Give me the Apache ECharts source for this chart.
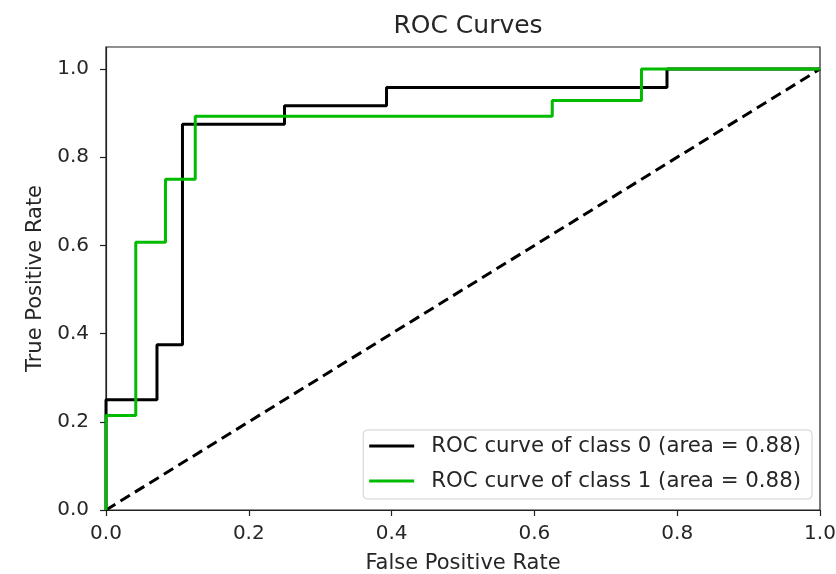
<!DOCTYPE html>
<html><head><meta charset="utf-8">
<script src="https://cdn.jsdelivr.net/npm/echarts@6/dist/echarts.min.js"></script>
<style>html,body{margin:0;padding:0;background:#fff}#c{width:836px;height:574px}</style>
</head><body><div id="c"></div>
<script>
// Class 0 ROC curve (step corners)
const fpr0 = [0, 0, 0.0714, 0.0714, 0.1071, 0.1071, 0.25, 0.25, 0.3929, 0.3929, 0.7857, 0.7857, 1.0];
const tpr0 = [0, 0.25, 0.25, 0.375, 0.375, 0.875, 0.875, 0.9167, 0.9167, 0.9583, 0.9583, 1.0, 1.0];
// Class 1 ROC curve
const fpr1 = [0, 0, 0.0417, 0.0417, 0.0833, 0.0833, 0.125, 0.125, 0.625, 0.625, 0.75, 0.75, 1.0];
const tpr1 = [0, 0.2143, 0.2143, 0.6071, 0.6071, 0.75, 0.75, 0.8929, 0.8929, 0.9286, 0.9286, 1.0, 1.0];
// Chance diagonal
const diagX = [0, 1];
const diagY = [0, 1];
const seriesNames = ['ROC curve of class 0 (area = 0.88)', 'ROC curve of class 1 (area = 0.88)'];
const xTicks = [0, 0.2, 0.4, 0.6, 0.8, 1.0];
const yTicks = [0, 0.2, 0.4, 0.6, 0.8, 1.0];

const zip = (a, b) => a.map((v, i) => [v, b[i]]);
const font = 'DejaVu Sans';
const txt = '#262626';
const chart = echarts.init(document.getElementById('c'));
chart.setOption({
  animation: false,
  backgroundColor: '#fff',
  title: { text: 'ROC Curves', left: 463, top: 9, textAlign: 'center',
    textStyle: { fontFamily: font, fontSize: 25, fontWeight: 'normal', color: txt } },
  grid: { left: 106, right: 16, top: 47, bottom: 64, show: true, borderColor: '#222', borderWidth: 1.2,
    backgroundColor: 'transparent', containLabel: false, outerBoundsMode: 'none' },
  xAxis: { type: 'value', min: 0, max: 1, interval: 0.2,
    name: 'False Positive Rate', nameLocation: 'middle', nameGap: 43,
    nameTextStyle: { fontFamily: font, fontSize: 21, color: txt },
    axisLine: { show: true, lineStyle: { color: '#222', width: 1.2 } },
    axisTick: { show: true, length: 6, customValues: xTicks, lineStyle: { color: '#222', width: 1.2 } },
    axisLabel: { fontFamily: font, fontSize: 20, color: txt, margin: 14, customValues: xTicks, formatter: v => v.toFixed(1) },
    splitLine: { show: false } },
  yAxis: { type: 'value', min: 0, max: 1.05, interval: 0.2,
    name: 'True Positive Rate', nameLocation: 'middle', nameGap: 60, nameRotate: 90,
    nameTextStyle: { fontFamily: font, fontSize: 21, color: txt },
    axisLine: { show: true, lineStyle: { color: '#222', width: 1.2 } },
    axisTick: { show: true, length: 6, customValues: yTicks, lineStyle: { color: '#222', width: 1.2 } },
    axisLabel: { fontFamily: font, fontSize: 20, color: txt, margin: 17, customValues: yTicks,
      formatter: v => v.toFixed(1) },
    splitLine: { show: false } },
  legend: { orient: 'vertical', right: 24, top: 430, data: seriesNames,
    itemWidth: 45, itemHeight: 3, itemGap: 13,
    icon: 'rect',
    backgroundColor: '#fff', borderColor: '#d0d0d0', borderWidth: 1, borderRadius: 4,
    padding: [5, 11, 7, 6],
    textStyle: { fontFamily: font, fontSize: 21.3, lineHeight: 22, color: txt, padding: [0, 0, 0, 12] } },
  series: [
    { name: seriesNames[0], type: 'line', data: zip(fpr0, tpr0), showSymbol: false, symbol: 'none',
      lineStyle: { color: '#000', width: 3 }, itemStyle: { color: '#000' }, clip: false, z: 3 },
    { name: seriesNames[1], type: 'line', data: zip(fpr1, tpr1), showSymbol: false, symbol: 'none',
      lineStyle: { color: '#00bb00', width: 3 }, itemStyle: { color: '#00bb00' }, clip: false, z: 4 },
    { name: 'chance', type: 'line', data: zip(diagX, diagY), showSymbol: false, symbol: 'none',
      lineStyle: { color: '#000', width: 3, type: [11, 6] }, z: 2 }
  ]
});
</script></body></html>
